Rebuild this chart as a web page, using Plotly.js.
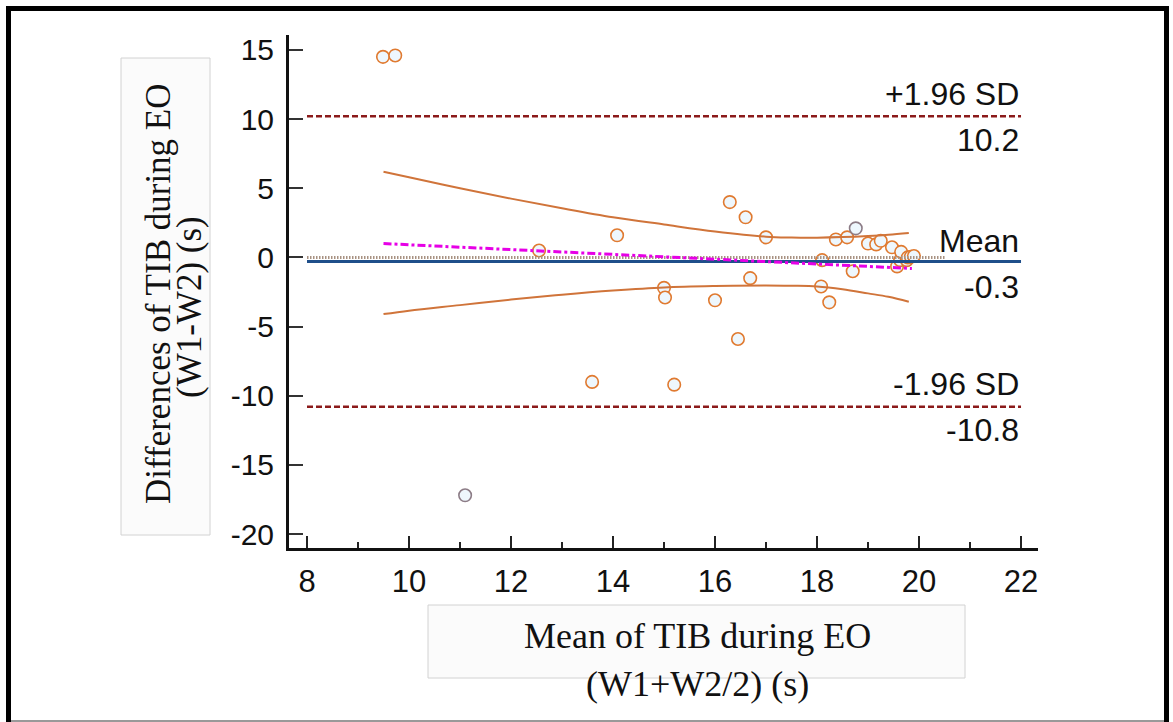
<!DOCTYPE html>
<html>
<head>
<meta charset="utf-8">
<script src="https://cdn.plot.ly/plotly-3.0.1.min.js"></script>
<style>html,body{margin:0;padding:0;background:#fff;}#chart{width:1173px;height:722px;}</style>
</head>
<body>
<div id="chart"></div>
<script>
// ---- data ----
const meanVals = [9.49, 9.73, 11.1, 12.55, 13.59, 14.08, 15.0, 15.02, 15.2, 16.0, 16.29, 16.45, 16.6, 16.69, 17.0, 18.08, 18.1, 18.24, 18.37, 18.59, 18.7, 18.76, 19.0, 19.16, 19.25, 19.47, 19.57, 19.63, 19.65, 19.76, 19.78, 19.84, 19.9];
const diffVals = [14.5, 14.6, -17.2, 0.5, -9.0, 1.6, -2.2, -2.9, -9.2, -3.1, 4.0, -5.9, 2.9, -1.5, 1.45, -2.1, -0.2, -3.25, 1.3, 1.45, -1.0, 2.1, 1.0, 0.94, 1.2, 0.73, -0.65, -0.2, 0.4, -0.2, 0.0, 0.05, 0.1];
const grayEdgeIdx = [2, 21];

const upperLoA = 10.2;
const meanDiff = -0.3;
const lowerLoA = -10.8;
const limitX = [8, 22];
const zeroX = [8, 20.5];

const regX = [9.5, 19.86];
const regY = [1.0, -0.8];

const ciX = [9.5, 10, 11, 12, 13, 14, 15, 16, 17, 17.5, 18, 18.5, 19, 19.4, 19.8];
const ciUpper = [6.2, 5.8, 5.0, 4.25, 3.55, 2.9, 2.38, 1.88, 1.5, 1.44, 1.43, 1.47, 1.55, 1.64, 1.77];
const ciLower = [-4.1, -3.85, -3.45, -3.05, -2.7, -2.4, -2.17, -2.07, -2.03, -2.05, -2.1, -2.3, -2.6, -2.85, -3.2];

const xTicks = [8, 10, 12, 14, 16, 18, 20, 22];
const yTicks = [-20, -15, -10, -5, 0, 5, 10, 15];

const xTitleLines = ["Mean of TIB during EO", "(W1+W2/2) (s)"];
const yTitleLines = ["Differences of TIB during EO", "(W1-W2) (s)"];
const limitLabels = ["+1.96 SD", "Mean", "-1.96 SD"];

// ---- layout geometry ----
const L = 289, R = 1038, T = 35, B = 548;
const W = 1173, H = 722;
const px = v => (v - L) / (R - L);
const py = v => (B - v) / (B - T);

const orange = '#E07A30';
const edgeColors = meanVals.map((_, i) => grayEdgeIdx.includes(i) ? '#8C7C86' : orange);

const traces = [
  {x: meanVals, y: diffVals, mode: 'markers', type: 'scatter', cliponaxis: false,
   marker: {size: 12.5, color: '#EEF7FD', line: {color: edgeColors, width: 1.6}}},
  {x: zeroX, y: [0, 0], mode: 'lines', line: {color: '#A89282', width: 3, dash: '1.5px,1.5px'}},
  {x: limitX, y: [meanDiff, meanDiff], mode: 'lines', line: {color: '#1F4F8A', width: 3}},
  {x: limitX, y: [upperLoA, upperLoA], mode: 'lines', line: {color: '#8B1A1A', width: 2.5, dash: '6px,3px'}},
  {x: limitX, y: [lowerLoA, lowerLoA], mode: 'lines', line: {color: '#8B1A1A', width: 2.5, dash: '6px,3px'}},
  {x: ciX, y: ciUpper, mode: 'lines', line: {color: '#D0743A', width: 2, shape: 'spline'}},
  {x: ciX, y: ciLower, mode: 'lines', line: {color: '#D0743A', width: 2, shape: 'spline'}},
  {x: regX, y: regY, mode: 'lines', line: {color: '#E600E6', width: 3, dash: '8px,3px,3px,3px'}}
];

const labelFont = {family: 'Liberation Sans, Arial, sans-serif', size: 32, color: '#111'};
const serifFont = {family: 'Liberation Serif, Times New Roman, serif', size: 36, color: '#111'};

const annotations = [
  {x: 22, y: upperLoA, text: limitLabels[0], yshift: 22},
  {x: 22, y: upperLoA, text: upperLoA.toFixed(1), yshift: -24},
  {x: 22, y: meanDiff, text: limitLabels[1], yshift: 21},
  {x: 22, y: meanDiff, text: meanDiff.toFixed(1), yshift: -25},
  {x: 22, y: lowerLoA, text: limitLabels[2], yshift: 23},
  {x: 22, y: lowerLoA, text: lowerLoA.toFixed(1), yshift: -23}
].map(a => Object.assign({xref: 'x', yref: 'y', xanchor: 'right', yanchor: 'middle', showarrow: false, font: labelFont}, a));

annotations.push(
  {xref: 'paper', yref: 'paper', x: px(697), y: py(636), text: xTitleLines[0], showarrow: false, xanchor: 'center', yanchor: 'middle', font: serifFont},
  {xref: 'paper', yref: 'paper', x: px(697), y: py(684), text: xTitleLines[1], showarrow: false, xanchor: 'center', yanchor: 'middle', font: serifFont},
  {xref: 'paper', yref: 'paper', x: px(158), y: py(294), text: yTitleLines[0], textangle: -90, showarrow: false, xanchor: 'center', yanchor: 'middle', font: Object.assign({}, serifFont, {size: 35})},
  {xref: 'paper', yref: 'paper', x: px(189), y: py(307), text: yTitleLines[1], textangle: -90, showarrow: false, xanchor: 'center', yanchor: 'middle', font: Object.assign({}, serifFont, {size: 35})}
);

const shapes = [
  {type: 'rect', xref: 'paper', yref: 'paper', x0: px(121), x1: px(210), y0: py(58), y1: py(535), fillcolor: '#FBFBFB', line: {color: '#D2D2D2', width: 1}, layer: 'below'},
  {type: 'rect', xref: 'paper', yref: 'paper', x0: px(428), x1: px(965), y0: py(605), y1: py(678), fillcolor: '#FBFBFB', line: {color: '#D2D2D2', width: 1}, layer: 'below'},
  {type: 'line', xref: 'paper', yref: 'paper', x0: px(8.5), x1: px(8.5), y0: py(6), y1: py(722), line: {color: '#000', width: 5}},
  {type: 'line', xref: 'paper', yref: 'paper', x0: px(6), x1: px(1168), y0: py(8.5), y1: py(8.5), line: {color: '#000', width: 5}},
  {type: 'line', xref: 'paper', yref: 'paper', x0: px(1166.5), x1: px(1166.5), y0: py(6), y1: py(722), line: {color: '#000', width: 5}},
  {type: 'line', xref: 'paper', yref: 'paper', x0: px(11), x1: px(1164), y0: py(721), y1: py(721), line: {color: '#999', width: 2}}
];

const layout = {
  width: W, height: H,
  margin: {l: L, r: W - R, t: T, b: H - B, pad: 0},
  paper_bgcolor: '#fff', plot_bgcolor: '#fff',
  showlegend: false,
  xaxis: {
    range: [7.647, 22.333], tickmode: 'array', tickvals: xTicks, ticktext: xTicks.map(String),
    ticks: 'inside', ticklen: 12, tickwidth: 2, tickcolor: '#222',
    minor: {ticks: 'inside', ticklen: 6, tickwidth: 2, tickcolor: '#222', tickmode: 'linear', tick0: 9, dtick: 2},
    showline: true, linewidth: 3, linecolor: '#111', showgrid: false, zeroline: false,
    tickfont: {family: 'Liberation Sans Narrow, Liberation Sans, Arial, sans-serif', size: 31, color: '#111'},
    ticklabelstandoff: 4
  },
  yaxis: {
    range: [-21.01, 16.08], tickmode: 'array', tickvals: yTicks, ticktext: yTicks.map(String),
    ticks: 'inside', ticklen: 14, tickwidth: 2, tickcolor: '#333',
    showline: true, linewidth: 3, linecolor: '#111', showgrid: false, zeroline: false,
    tickfont: {family: 'Liberation Sans, Arial, sans-serif', size: 30, color: '#111'},
    ticklabelstandoff: 6
  },
  annotations: annotations,
  shapes: shapes
};

Plotly.newPlot('chart', traces, layout, {displayModeBar: false, staticPlot: true});
</script>
</body>
</html>
